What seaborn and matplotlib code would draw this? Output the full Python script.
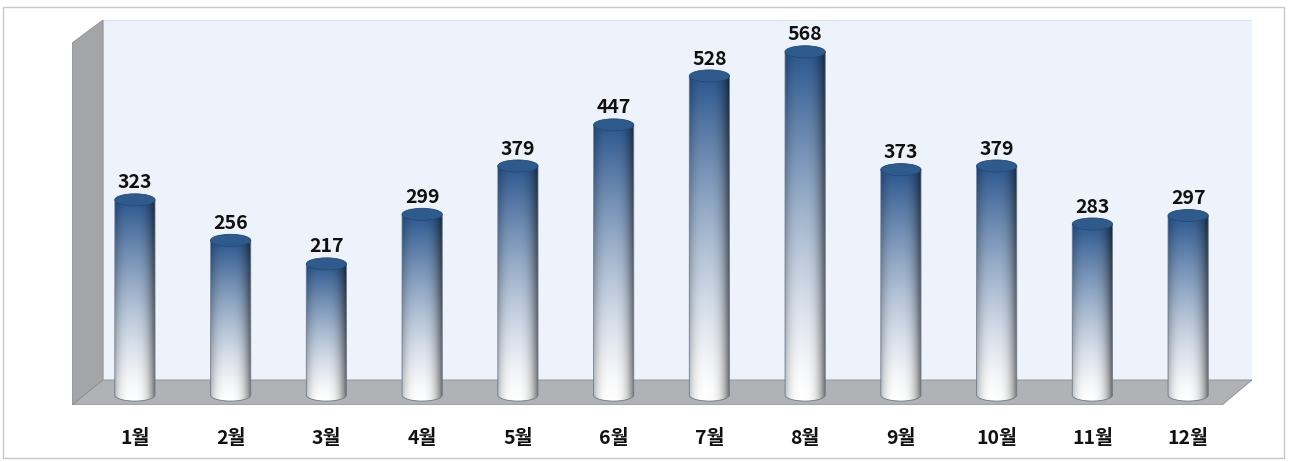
import numpy as np
import pandas as pd
import matplotlib
matplotlib.use('Agg')
import matplotlib.pyplot as plt
import seaborn as sns
from matplotlib.patches import Polygon, Ellipse, Rectangle, PathPatch
from matplotlib.path import Path

# 월별 데이터
months = ['1월', '2월', '3월', '4월', '5월', '6월', '7월', '8월', '9월', '10월', '11월', '12월']
values = [323, 256, 217, 299, 379, 447, 528, 568, 373, 379, 283, 297]

sns.set_style('white')
plt.rcParams['font.family'] = ['Noto Sans CJK KR', 'DejaVu Sans']

df = pd.DataFrame({'month': months, 'value': values})

fig = plt.figure(figsize=(12.89, 4.62), dpi=100)
fig.patch.set_facecolor('white')
# 바깥 테두리
fig.add_artist(Rectangle((3 / 1289, 4 / 462), 1281 / 1289, 451 / 462, transform=fig.transFigure,
                         fill=False, edgecolor='#c8c8c8', linewidth=1.0))

ax = fig.add_axes([72 / 1289, 57 / 462, 1180 / 1289, 385 / 462])
ax.set_facecolor('none')

bar_w = 0.42
sns.barplot(data=df, x='month', y='value', width=bar_w, color='#2f5d94', ax=ax, zorder=2)
ax.set_xlim(-0.657, 11.667)
ax.set_ylim(-16.5, 620.6)

# 3D 벽과 바닥
T = ax.transAxes
ax.add_patch(Polygon([(0.0263, 0.065), (1.0, 0.065), (1.0, 1.0), (0.0263, 1.0)], closed=True,
                     transform=T, facecolor='#eef3fb', edgecolor='#d8dde6', lw=0.6, zorder=0.1))
ax.add_patch(Polygon([(0, 0), (0.0263, 0.065), (0.0263, 1.0), (0, 0.94)], closed=True,
                     transform=T, facecolor='#a3a5a8', edgecolor='#8c8e91', lw=0.6, zorder=0.2))
ax.add_patch(Polygon([(0, 0), (0.9746, 0), (1.0, 0.065), (0.0263, 0.065)], closed=True,
                     transform=T, facecolor='#b0b2b5', edgecolor='#8c8e91', lw=0.6, zorder=0.2))

# 원통형 그라데이션 막대
ell_h = 20
top_rgb = np.array([0.17, 0.34, 0.56])
nh, nw = 200, 60
tt = np.linspace(1, 0, nh)[:, None]
uu = np.linspace(-1, 1, nw)[None, :]
mix = np.clip(tt, 0, 1) ** 1.3
base = (1 - mix)[..., None] * np.ones(3) + mix[..., None] * top_rgb
shade = 1 - 0.4 * np.abs(uu + 0.15) ** 3
shade = np.clip(shade, 0, 1)[..., None]
img = np.clip(base * shade, 0, 1)

for p in list(ax.patches):
    if p.get_zorder() != 2:
        continue
    x0 = p.get_x()
    w = p.get_width()
    h = p.get_height()
    p.set_alpha(0)
    x1 = x0 + w
    cx = x0 + w / 2
    th = np.linspace(np.pi, 2 * np.pi, 30)
    verts = [(x0, h), (x0, 0)]
    verts += [(cx + w / 2 * np.cos(a), ell_h / 2 * np.sin(a)) for a in th]
    verts += [(x1, h), (x0, h)]
    codes = [Path.MOVETO] + [Path.LINETO] * (len(verts) - 2) + [Path.CLOSEPOLY]
    clip = PathPatch(Path(verts, codes), transform=ax.transData, facecolor='none',
                     edgecolor='#6b7b90', lw=0.6, zorder=2.1)
    ax.add_patch(clip)
    im = ax.imshow(img, extent=(x0, x1, -ell_h / 2, h), aspect='auto', zorder=2,
                   interpolation='bilinear')
    im.set_clip_path(clip)
    ax.add_patch(Ellipse((cx, h), w, ell_h, facecolor='#2e5a8c', edgecolor='#244a75',
                         lw=0.6, zorder=2.2))
    ax.annotate(f'{int(round(h))}', (cx, h + ell_h / 2), xytext=(0, 1), textcoords='offset points',
                ha='center', va='bottom', fontsize=14, fontweight='bold', color='#111111')

ax.set_xlabel('')
ax.set_ylabel('')
ax.set_yticks([])
ax.tick_params(axis='x', length=0, pad=17)
for lab in ax.get_xticklabels():
    lab.set_fontsize(14)
    lab.set_fontweight('bold')
    lab.set_color('#111111')
sns.despine(ax=ax, left=True, bottom=True)

fig.savefig('out.png', dpi=100)
